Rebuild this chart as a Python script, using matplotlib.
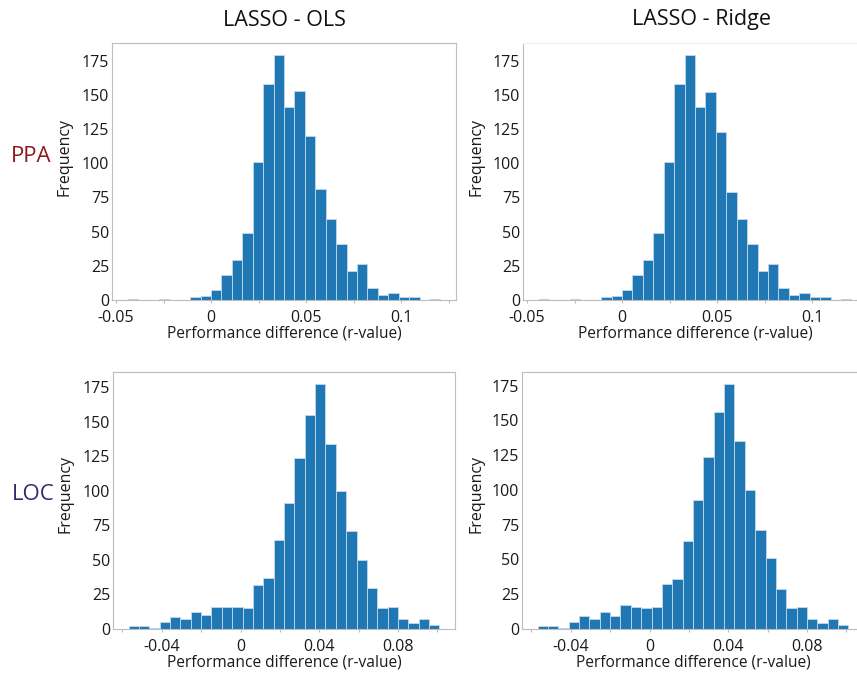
import numpy as np
import matplotlib.pyplot as plt

plt.rcParams['font.family'] = ['Open Sans', 'DejaVu Sans']

# histogram counts (30 bins each)
ppa_ols = [1, 0, 0, 1, 0, 0, 2, 3, 7, 18, 29, 49, 101, 158, 179, 141, 153, 120, 81, 59, 41, 21, 26, 9, 4, 5, 2, 2, 0, 1]
ppa_ridge = [1, 0, 0, 1, 0, 0, 2, 3, 7, 18, 29, 49, 101, 158, 179, 141, 152, 123, 79, 59, 41, 21, 26, 9, 4, 5, 2, 2, 0, 1]
loc_ols = [2, 2, 1, 5, 9, 7, 12, 10, 16, 16, 16, 15, 32, 37, 64, 91, 124, 155, 177, 134, 100, 71, 50, 30, 15, 16, 7, 4, 7, 3]
loc_ridge = [2, 2, 1, 5, 9, 7, 12, 9, 17, 16, 15, 16, 32, 36, 63, 93, 124, 156, 176, 135, 100, 71, 51, 29, 15, 16, 7, 4, 7, 3]

# bin ranges per row
ppa_range = (-0.0439, 0.1207)
loc_range = (-0.0569, 0.1010)

col_titles = ["LASSO - OLS", "LASSO - Ridge"]
row_labels = ["PPA", "LOC"]
row_colors = ["#8c1c1c", "#2e2c6c"]

ppa_ticks = [-0.05, 0, 0.05, 0.1]
ppa_ticklabels = ["-0.05", "0", "0.05", "0.1"]
ppa_minor = [-0.025, 0.025, 0.075, 0.125]
loc_ticks = [-0.04, 0, 0.04, 0.08]
loc_ticklabels = ["-0.04", "0", "0.04", "0.08"]
loc_minor = [-0.06, -0.02, 0.02, 0.06, 0.1]

W, H = 857, 673
fig = plt.figure(figsize=(W / 100, H / 100), dpi=100)

# axes boxes in pixels: left, top, right, bottom
boxes = [
    [(112, 43, 456, 300), (523, 43, 867, 300)],
    [(113, 372, 455, 629), (522, 372, 864, 629)],
]
label_y = [157, 494]
label_x = [73, 484]

data = [[ppa_ols, ppa_ridge], [loc_ols, loc_ridge]]
ranges = [ppa_range, loc_range]
ticks = [(ppa_ticks, ppa_ticklabels, ppa_minor), (loc_ticks, loc_ticklabels, loc_minor)]

spine_col = "#bdbdbd"
txt_col = "#1a1a1a"

for r in range(2):
    lo, hi = ranges[r]
    edges = np.linspace(lo, hi, 31)
    for c in range(2):
        l, t, rr, b = boxes[r][c]
        ax = fig.add_axes([l / W, 1 - b / H, (rr - l) / W, (b - t) / H])
        ax.hist(edges[:-1], bins=edges, weights=data[r][c], color="#1f77b4",
                edgecolor="#c2d8ec", linewidth=0.6)
        for s in ax.spines.values():
            s.set_color(spine_col)
            s.set_linewidth(0.8)
        if r == 0 and c == 1:
            ax.spines["top"].set_color("#f0f0f0")
        maj, lab, mnr = ticks[r]
        ax.set_xticks(maj)
        ax.set_xticklabels(lab)
        ax.set_xticks(mnr, minor=True)
        ax.set_yticks([0, 25, 50, 75, 100, 125, 150, 175])
        ax.tick_params(axis="x", which="both", length=2.5, color=spine_col, width=0.8,
                       labelsize=11.5, labelcolor=txt_col, pad=4.5)
        ax.tick_params(axis="y", length=0, labelsize=11.5, labelcolor=txt_col, pad=2)
        ax.set_xlabel("Performance difference (r-value)", fontsize=11.2, color=txt_col, labelpad=0)
        ax.set_ylabel("Frequency", fontsize=11.5, color=txt_col)
        ax.yaxis.set_label_coords((label_x[c] - l) / (rr - l), (b - label_y[r]) / (b - t))

# column titles and row labels
fig.text(284 / W, 1 - 20 / H, col_titles[0], ha="center", va="center", fontsize=15.5, color="#111111")
fig.text(702 / W, 1 - 20 / H, col_titles[1], ha="center", va="center", fontsize=15.5, color="#111111")
fig.text(31 / W, 1 - 157 / H, row_labels[0], ha="center", va="center", fontsize=16, color=row_colors[0])
fig.text(33 / W, 1 - 495 / H, row_labels[1], ha="center", va="center", fontsize=16, color=row_colors[1])

fig.savefig("out.png", dpi=100)
